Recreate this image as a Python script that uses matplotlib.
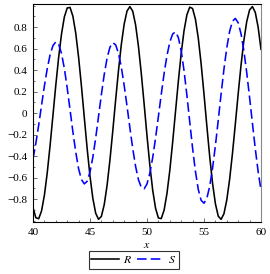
import numpy as np
import matplotlib
matplotlib.use("Agg")
import matplotlib.pyplot as plt
from matplotlib.ticker import MultipleLocator

# sample grid, step 0.25 from 40 to 60
x = np.linspace(40, 60, 81)

R = [-0.880, -0.974, -0.983, -0.911, -0.765, -0.556, -0.301, -0.022, 0.258, 0.517,
     0.734, 0.893, 0.977, 0.982, 0.901, 0.743, 0.519, 0.250, -0.041, -0.329,
     -0.586, -0.794, -0.932, -0.989, -0.961, -0.852, -0.672, -0.437, -0.165, 0.121,
     0.396, 0.639, 0.828, 0.949, 0.990, 0.947, 0.820, 0.621, 0.368, 0.083,
     -0.211, -0.484, -0.717, -0.885, -0.976, -0.982, -0.904, -0.750, -0.535, -0.273,
     0.011, 0.295, 0.554, 0.766, 0.913, 0.985, 0.972, 0.872, 0.696, 0.457,
     0.177, -0.119, -0.403, -0.652, -0.843, -0.959, -0.989, -0.937, -0.809, -0.616,
     -0.374, -0.102, 0.179, 0.445, 0.675, 0.851, 0.959, 0.990, 0.936, 0.799,
     0.593]

S = [-0.426, -0.282, -0.112, 0.072, 0.252, 0.412, 0.542, 0.627, 0.662, 0.640,
     0.554, 0.415, 0.234, 0.030, -0.175, -0.364, -0.518, -0.619, -0.659, -0.635,
     -0.550, -0.411, -0.232, -0.031, 0.172, 0.359, 0.511, 0.612, 0.654, 0.634,
     0.555, 0.426, 0.256, 0.063, -0.138, -0.331, -0.496, -0.620, -0.691, -0.705,
     -0.660, -0.560, -0.415, -0.234, -0.033, 0.172, 0.366, 0.533, 0.659, 0.735,
     0.755, 0.703, 0.579, 0.394, 0.166, -0.082, -0.327, -0.543, -0.711, -0.812,
     -0.839, -0.794, -0.682, -0.515, -0.305, -0.068, 0.176, 0.407, 0.607, 0.760,
     0.854, 0.880, 0.840, 0.736, 0.578, 0.375, 0.145, -0.096, -0.332, -0.544,
     -0.716]

xticks = [40, 45, 50, 55, 60]
yticks = [-0.8, -0.6, -0.4, -0.2, 0, 0.2, 0.4, 0.6, 0.8]
ytick_labels = ['\u22120.8', '\u22120.6', '\u22120.4', '\u22120.2', '0',
                '0.2', '0.4', '0.6', '0.8']

plt.rcParams['font.family'] = ['Liberation Serif', 'DejaVu Serif']
plt.rcParams['mathtext.fontset'] = 'stix'

fig = plt.figure(figsize=(2.70, 2.74), dpi=100)
ax = fig.add_axes([0.1222, 0.1916, 0.8444, 0.7938])

ax.plot(x, R, color='black', lw=1.15, label='$R$')
ax.plot(x, S, color='#0000ff', lw=1.15, linestyle=(0, (6, 2.6)), label='$S$')

ax.set_xlim(40, 60)
ax.set_ylim(-1.009, 1.014)
ax.set_xticks(xticks)
ax.set_yticks(yticks)
ax.set_yticklabels(ytick_labels)
ax.xaxis.set_minor_locator(MultipleLocator(1))
ax.yaxis.set_minor_locator(MultipleLocator(0.1))
ax.tick_params(which='both', direction='in', labelsize=8, color='#555555', width=0.6,
               top=False, right=False)
ax.tick_params(which='major', length=3)
ax.tick_params(axis='x', which='major', pad=5)
ax.tick_params(axis='y', which='major', pad=4)
ax.tick_params(which='minor', length=1.5)

for side in ['left', 'bottom', 'top']:
    ax.spines[side].set_color('black')
    ax.spines[side].set_linewidth(0.8)
ax.spines['right'].set_color('#888888')
ax.spines['right'].set_linewidth(0.8)

ax.set_xlabel('$x$', fontsize=8.5, labelpad=1)

leg = fig.legend(loc='center', bbox_to_anchor=(0.495, 0.051), ncol=2, fontsize=8.5,
                 frameon=True, fancybox=False, edgecolor='black', handlelength=2.3,
                 handletextpad=0.35, columnspacing=0.4, borderpad=0.25,
                 borderaxespad=0)
leg.get_frame().set_linewidth(0.8)

fig.savefig('out.png', dpi=100)
